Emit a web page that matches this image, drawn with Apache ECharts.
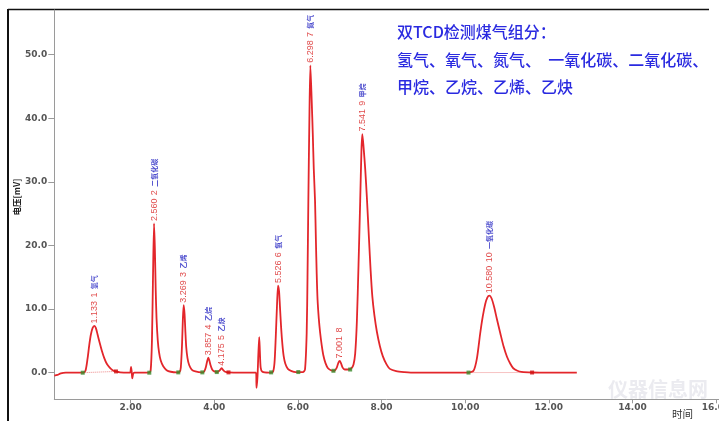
<!DOCTYPE html>
<html><head><meta charset="utf-8">
<script src="https://cdn.jsdelivr.net/npm/echarts@6/dist/echarts.min.js"></script>
<style>html,body{margin:0;padding:0;background:#fff}#c{width:719px;height:421px}</style>
</head><body><div id="c"></div>
<script>
// chromatogram trace (time in min, signal in mV)
const traceTime = [0.175,0.25,0.33,0.45,0.7,0.86,0.92,0.97,1.01,1.05,1.09,1.133,1.17,1.21,1.26,1.31,1.37,1.43,1.50,1.57,1.65,1.75,1.95,1.99,2.01,2.025,2.04,2.06,2.09,2.44,2.48,2.51,2.535,2.56,2.58,2.60,2.62,2.65,2.68,2.72,2.78,2.86,2.96,3.10,3.17,3.20,3.23,3.25,3.269,3.29,3.31,3.33,3.36,3.40,3.46,3.55,3.70,3.76,3.80,3.83,3.857,3.88,3.91,3.95,4.00,4.08,4.13,4.175,4.21,4.26,4.34,4.60,5.00,5.01,5.035,5.055,5.075,5.09,5.11,5.15,5.30,5.40,5.44,5.47,5.50,5.526,5.55,5.57,5.60,5.63,5.66,5.70,5.76,5.85,5.95,6.12,6.17,6.21,6.23,6.25,6.275,6.298,6.33,6.356,6.38,6.41,6.43,6.45,6.47,6.50,6.53,6.57,6.61,6.66,6.72,6.80,6.87,6.93,6.97,7.001,7.03,7.07,7.12,7.20,7.28,7.33,7.37,7.41,7.45,7.49,7.52,7.541,7.57,7.61,7.65,7.70,7.74,7.78,7.83,7.89,7.96,8.03,8.12,8.20,8.35,8.55,8.80,10.00,10.08,10.20,10.28,10.36,10.42,10.48,10.53,10.58,10.63,10.69,10.76,10.84,10.92,11.00,11.08,11.15,11.25,11.35,11.60,12.00,12.67];
const traceValue = [-0.45,-0.35,-0.1,0.0,0.0,0.0,0.3,2.2,4.3,6.0,7.0,7.35,7.0,6.0,4.7,3.5,2.3,1.4,0.8,0.4,0.2,0.05,0.0,0.0,0.9,0.2,-0.9,-0.2,0.0,0.0,0.4,5,15,23.45,19.5,13,8.5,5,3.2,1.9,1.0,0.4,0.15,0.05,0.1,0.8,4.5,8.5,10.6,9.2,6.4,4.0,2.3,1.2,0.5,0.2,0.05,0.2,0.9,1.8,2.35,2.0,1.2,0.5,0.2,0.1,0.35,0.7,0.45,0.15,0.05,0.0,0.0,-2.4,-0.5,3.0,5.6,3.5,0.8,0.15,0.0,0.1,1.5,5.5,10.5,13.7,12.8,10.5,7.0,4.4,2.6,1.4,0.6,0.25,0.1,0.1,0.5,6.2,15,27,40,48.3,42.8,37.6,32,27,21,15.5,11.5,8.5,6.4,4.3,2.7,1.5,0.7,0.35,0.3,0.8,1.6,1.85,1.5,0.8,0.5,0.5,0.7,1.3,3,8,17,27,35,37.5,35.5,32,27.5,21,16,12,9,6.4,4.2,2.6,1.3,0.6,0.25,0.1,0.0,0.0,0.02,0.3,2.2,6.2,8.8,10.8,11.8,12.1,11.7,10.4,8.4,6.2,4.1,2.5,1.4,0.7,0.3,0.12,0.03,0.0,0.0];

// peak annotations
const peakTimes   = [1.133, 2.560, 3.269, 3.857, 4.175, 5.526, 6.298, 7.001, 7.541, 10.580];
const peakHeights = [7.35, 23.45, 10.6, 2.35, 0.7, 13.7, 48.3, 1.85, 37.5, 12.1];
const peakIds     = [1, 2, 3, 4, 5, 6, 7, 8, 9, 10];
const peakNames   = ['氢气', '二氧化碳', '乙烯', '乙烷', '乙炔', '氧气', '氮气', '', '甲烷', '一氧化碳'];

// integration markers
const startMarkTimes  = [0.855, 2.447, 3.14, 3.715, 4.06, 5.36, 6.01, 6.85, 7.25, 10.08];
const startMarkValues = [0.0, 0.0, 0.05, 0.05, 0.1, 0.05, 0.1, 0.3, 0.5, 0.02];
const endMarkTimes    = [1.65, 4.34, 11.6];
const endMarkValues   = [0.2, 0.05, 0.03];

const xTicks = [2, 4, 6, 8, 10, 12, 14, 16];
const yTicks = [0, 10, 20, 30, 40, 50];
const titleLines = ['双TCD检测煤气组分：', '氢气、氧气、氮气、  一氧化碳、二氧化碳、', '甲烷、乙烷、乙烯、乙炔'];
const yName = '电压[mV]';
const xName = '时间';
const watermark = '仪器信息网';

const chart = echarts.init(document.getElementById('c'), null, {renderer: 'canvas'});

const trace = traceTime.map((t, i) => [t, traceValue[i]]);

const option = {
  animation: false,
  backgroundColor: '#fff',
  grid: {left: 54.3, top: 10, right: 0, bottom: 21.7, containLabel: false, outerBoundsMode: 'none'},
  xAxis: {
    type: 'value', min: 0.175, max: 16.07,
    axisLine: {onZero: false, lineStyle: {color: '#9a9a9a', width: 1}},
    axisTick: {show: true, length: 4, customValues: xTicks, lineStyle: {color: '#9a9a9a'}},
    axisLabel: {customValues: xTicks, margin: 4, fontSize: 9, fontWeight: 'bold', fontFamily: 'DejaVu Sans', color: '#555',
      formatter: v => v.toFixed(2)},
    splitLine: {show: false}
  },
  yAxis: {
    type: 'value', min: -4.18, max: 57.0,
    axisLine: {show: true, lineStyle: {color: '#9a9a9a', width: 1}},
    axisTick: {show: true, length: 6, customValues: yTicks, lineStyle: {color: '#9a9a9a'}},
    axisLabel: {customValues: yTicks, margin: 7, fontSize: 9, fontWeight: 'bold', fontFamily: 'DejaVu Sans', color: '#555',
      formatter: v => v.toFixed(1)},
    splitLine: {show: false}
  },
  series: [
    {
      type: 'line', data: trace, showSymbol: false, smooth: 0.25,
      lineStyle: {color: '#e3262b', width: 1.8}, silent: true, z: 3
    },
    {
      type: 'line', data: [[startMarkTimes[0], startMarkValues[0]], [endMarkTimes[0], endMarkValues[0]]],
      showSymbol: false, lineStyle: {color: '#e88', width: 1, type: 'dotted'}, silent: true, z: 2
    },
    {
      type: 'line', data: [[startMarkTimes[9], startMarkValues[9]], [endMarkTimes[2], endMarkValues[2]]],
      showSymbol: false, lineStyle: {color: '#e88', width: 1, type: 'dotted'}, silent: true, z: 2
    },
    {
      type: 'scatter', data: startMarkTimes.map((t, i) => [t, startMarkValues[i]]),
      symbol: 'rect', symbolSize: 4, itemStyle: {color: '#3a8a2a'}, silent: true, z: 4
    },
    {
      type: 'scatter', data: endMarkTimes.map((t, i) => [t, endMarkValues[i]]),
      symbol: 'rect', symbolSize: 4, itemStyle: {color: '#d01010'}, silent: true, z: 4
    },
    {
      type: 'scatter', data: peakTimes.map((t, i) => [t, peakHeights[i]]),
      symbolSize: 1, itemStyle: {color: 'rgba(0,0,0,0)'}, silent: true, z: 5,
      label: {
        show: true, position: 'top', distance: 2, rotate: 90, align: 'left', verticalAlign: 'middle',
        formatter: p => {
          const i = p.dataIndex;
          return '{n|' + peakTimes[i].toFixed(3) + '} {n|' + peakIds[i] + '} {c|' + peakNames[i] + '}';
        },
        rich: {
          n: {color: '#d81c1c', fontSize: 9, fontFamily: 'Liberation Sans'},
          c: {color: '#1f1fc0', fontSize: 7, fontWeight: 'bold', fontFamily: 'Noto Sans CJK SC'}
        }
      }
    }
  ],
  graphic: [
    {type: 'line', shape: {x1: 8, y1: 9, x2: 8, y2: 421}, style: {stroke: '#111', lineWidth: 2}, silent: true},
    {type: 'line', shape: {x1: 8, y1: 9.5, x2: 709, y2: 9.5}, style: {stroke: '#111', lineWidth: 1.5}, silent: true},
    {type: 'text', x: 397, y: 31.7, style: {text: titleLines[0], fill: '#2a2ae0', font: '500 16px "Noto Sans CJK SC"', verticalAlign: 'middle'}, silent: true},
    {type: 'text', x: 397, y: 60, style: {text: titleLines[1], fill: '#2a2ae0', font: '500 16px "Noto Sans CJK SC"', verticalAlign: 'middle'}, silent: true},
    {type: 'text', x: 397, y: 87.3, style: {text: titleLines[2], fill: '#2a2ae0', font: '500 16px "Noto Sans CJK SC"', verticalAlign: 'middle'}, silent: true},
    {type: 'text', x: 17, y: 197, rotation: Math.PI / 2, style: {text: yName, fill: '#222', font: 'bold 8.5px "Noto Sans CJK SC"', align: 'center', verticalAlign: 'middle'}, silent: true},
    {type: 'text', x: 672, y: 414, style: {text: xName, fill: '#333', font: '10.5px "Noto Sans CJK SC"', verticalAlign: 'middle'}, silent: true},
    {type: 'text', x: 608, y: 389.5, z: -1, style: {text: watermark, fill: '#ebebf0', font: 'bold 20px "Noto Sans CJK SC"', verticalAlign: 'middle'}, silent: true}
  ]
};
chart.setOption(option);
</script></body></html>
